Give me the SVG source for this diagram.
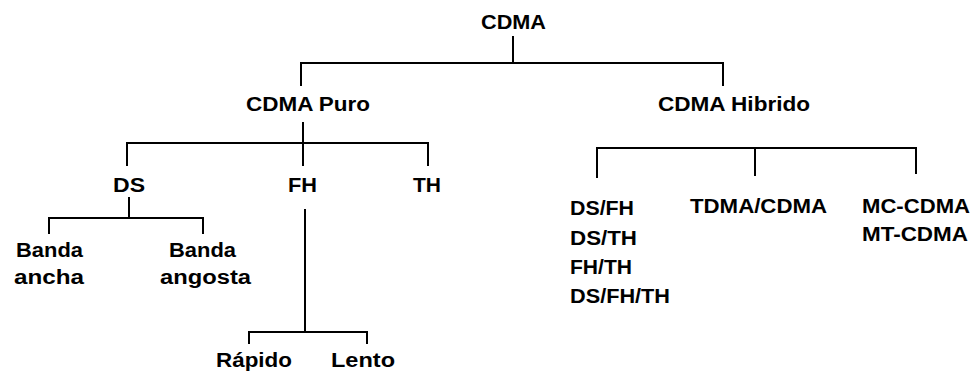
<svg xmlns="http://www.w3.org/2000/svg" width="973" height="373" viewBox="0 0 973 373">
  <style>
    text { font-family: "Liberation Sans", Arial, sans-serif; font-weight: bold; font-size: 20px; fill: #000; }
    .wire { fill: none; stroke: #000; stroke-width: 2; stroke-linecap: square; }
  </style>
  <rect width="973" height="373" fill="#fff"/>

  <!-- tree connectors -->
  <g id="connectors">
    <path class="wire" d="M513 37V63 M301 85V63H723V85"/>
    <path class="wire" d="M303 123V165 M127 165V143H428V165"/>
    <path class="wire" d="M597 177V148H916V173 M755 148V175"/>
    <path class="wire" d="M129 198V218 M49 233V218H203V233"/>
    <path class="wire" d="M305 210V332 M249 343V332H367V343"/>
  </g>

  <g id="cdma">
    <text x="481" y="29" textLength="65" lengthAdjust="spacingAndGlyphs">CDMA</text>
  </g>
  <g id="cdma-puro">
    <text x="246" y="111" textLength="124" lengthAdjust="spacingAndGlyphs">CDMA Puro</text>
  </g>
  <g id="cdma-hibrido">
    <text x="658" y="111" textLength="152" lengthAdjust="spacingAndGlyphs">CDMA Hibrido</text>
  </g>
  <g id="ds">
    <text x="113" y="192" textLength="32" lengthAdjust="spacingAndGlyphs">DS</text>
  </g>
  <g id="fh">
    <text x="288" y="192" textLength="29" lengthAdjust="spacingAndGlyphs">FH</text>
  </g>
  <g id="th">
    <text x="413" y="192" textLength="28" lengthAdjust="spacingAndGlyphs">TH</text>
  </g>
  <g id="banda-ancha">
    <text x="16" y="257" textLength="67" lengthAdjust="spacingAndGlyphs">Banda</text>
    <text x="14" y="284" textLength="70" lengthAdjust="spacingAndGlyphs">ancha</text>
  </g>
  <g id="banda-angosta">
    <text x="169" y="257" textLength="67" lengthAdjust="spacingAndGlyphs">Banda</text>
    <text x="160" y="284" textLength="91" lengthAdjust="spacingAndGlyphs">angosta</text>
  </g>
  <g id="rapido">
    <text x="216" y="367" textLength="76" lengthAdjust="spacingAndGlyphs">Rápido</text>
  </g>
  <g id="lento">
    <text x="331" y="367" textLength="64" lengthAdjust="spacingAndGlyphs">Lento</text>
  </g>
  <g id="hibridos-combinados">
    <text x="570" y="215" textLength="64" lengthAdjust="spacingAndGlyphs">DS/FH</text>
    <text x="570" y="245" textLength="67" lengthAdjust="spacingAndGlyphs">DS/TH</text>
    <text x="570" y="274" textLength="62" lengthAdjust="spacingAndGlyphs">FH/TH</text>
    <text x="570" y="303" textLength="100" lengthAdjust="spacingAndGlyphs">DS/FH/TH</text>
  </g>
  <g id="tdma-cdma">
    <text x="690" y="213" textLength="137" lengthAdjust="spacingAndGlyphs">TDMA/CDMA</text>
  </g>
  <g id="multiportadora">
    <text x="862" y="213" textLength="108" lengthAdjust="spacingAndGlyphs">MC-CDMA</text>
    <text x="862" y="241" textLength="106" lengthAdjust="spacingAndGlyphs">MT-CDMA</text>
  </g>
</svg>
